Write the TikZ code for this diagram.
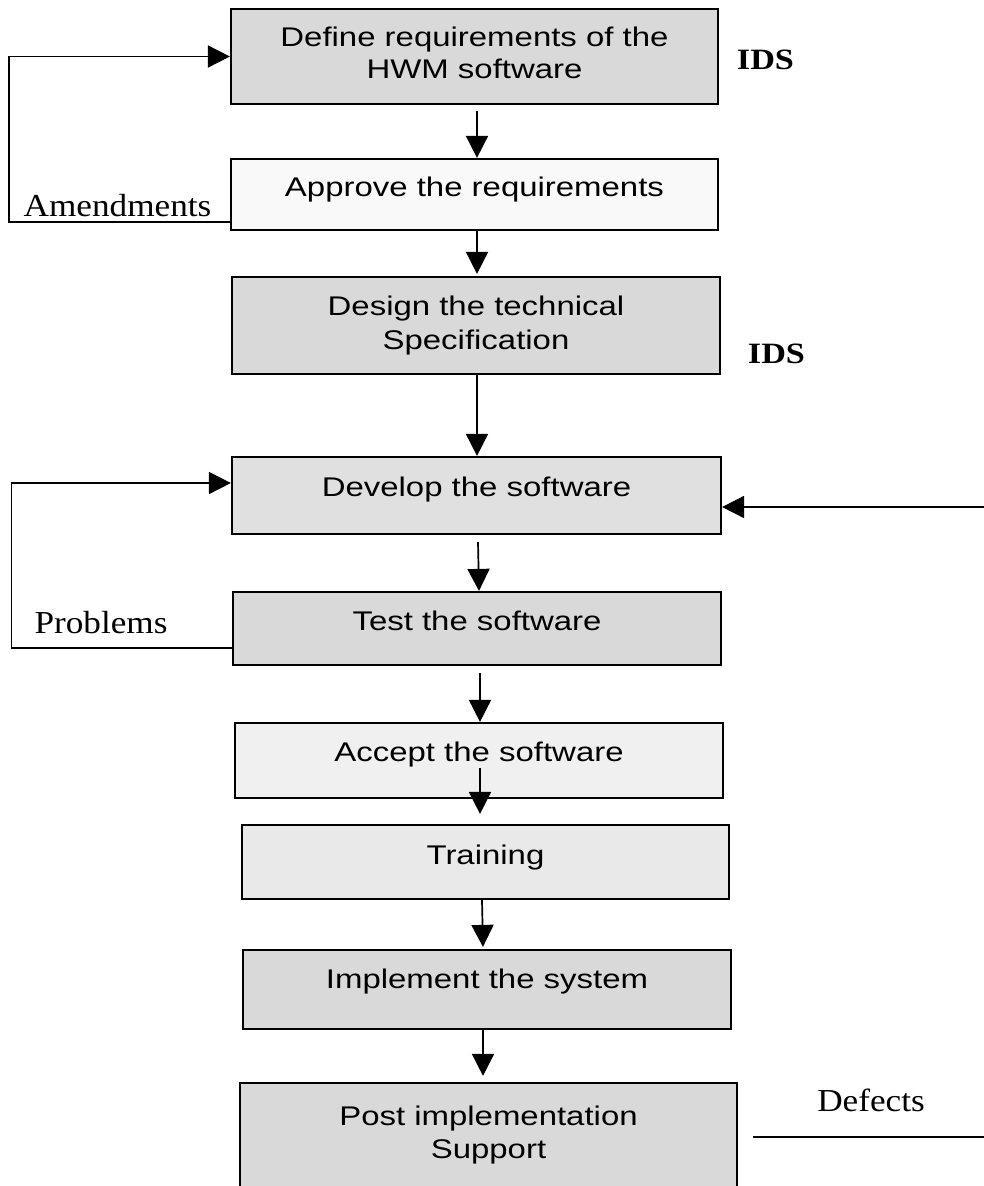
\documentclass[tikz,border=0pt]{standalone}
\usepackage{fontspec}
\setmainfont{Liberation Serif}
\newfontfamily\boxfont{Liberation Sans}[FakeStretch=1.22]
\newfontfamily\lblfont{Liberation Serif}[FakeStretch=1.1]
\newfontfamily\idsfont{Liberation Serif}[FakeStretch=1.16]
\usetikzlibrary{arrows.meta}
\definecolor{fillA}{gray}{0.85}
\definecolor{fillB}{gray}{0.975}
\definecolor{fillC}{gray}{0.88}
\definecolor{fillD}{gray}{0.94}
\definecolor{fillE}{gray}{0.915}
\begin{document}
\begin{tikzpicture}[x=1pt,y=-1pt,
  box/.style={draw=black, line width=2.2pt, inner sep=0pt},
  txt/.style={font=\boxfont\fontsize{27}{33}\selectfont, inner sep=0pt, anchor=base},
  lbl/.style={font=\lblfont\fontsize{32}{36}\selectfont, inner sep=0pt, anchor=base},
  ids/.style={font=\idsfont\bfseries\fontsize{29.5}{34}\selectfont, inner sep=0pt, anchor=base},
  arr/.style={line width=1.7pt, -{Triangle[length=22pt,width=22pt]}},
  plainline/.style={line width=1.8pt}]
\fill[white] (0,0) rectangle (984,1186);
\useasboundingbox (0,0) rectangle (984,1186);

% boxes
\node[box, fill=fillA, minimum width=487pt, minimum height=95pt] (b1) at (474.5,56.5) {};
\node[box, fill=fillB, minimum width=487pt, minimum height=71pt] (b2) at (474.5,194.5) {};
\node[box, fill=fillA, minimum width=488pt, minimum height=97pt] (b3) at (476,325.5) {};
\node[box, fill=fillC, minimum width=489pt, minimum height=77pt] (b4) at (476.5,495.5) {};
\node[box, fill=fillA, minimum width=488pt, minimum height=73pt] (b5) at (477,628.5) {};
\node[box, fill=fillD, minimum width=488pt, minimum height=75pt] (b6) at (479,760.5) {};
\node[box, fill=fillE, minimum width=487pt, minimum height=74pt] (b7) at (485.5,862) {};
\node[box, fill=fillA, minimum width=488pt, minimum height=79pt] (b8) at (487,989.5) {};
\node[box, fill=fillA, minimum width=497pt, minimum height=109pt] (b9) at (488.5,1137.5) {};

% box texts
\node[txt] (t1a) at (b1.center |- 0,46.7) {Define requirements of the};
\node[txt] (t1b) at (b1.center |- 0,78) {HWM software};
\node[txt] (t2) at (b2.center |- 0,196.7) {Approve the requirements};
\node[txt] (t3a) at (b3.center |- 0,315) {Design the technical};
\node[txt] (t3b) at (b3.center |- 0,349.3) {Specification};
\node[txt] (t4) at (b4.center |- 0,496.7) {Develop the software};
\node[txt] (t5) at (b5.center |- 0,630.7) {Test the software};
\node[txt] (t6) at (b6.center |- 0,761.7) {Accept the software};
\node[txt] (t7) at (b7.center |- 0,864) {Training};
\node[txt] (t8) at (b8.center |- 0,988.3) {Implement the system};
\node[txt] (t9a) at (b9.center |- 0,1125) {Post implementation};
\node[txt] (t9b) at (b9.center |- 0,1158.3) {Support};

% side labels
\node[ids] (ids1) at (765.5,69) {IDS};
\node[ids] (ids2) at (776.5,363) {IDS};
\node[lbl] (amend) at (117.5,216) {Amendments};
\node[lbl] (probl) at (101,633) {Problems};
\node[lbl] (defects) at (871,1111) {Defects};

% vertical flow arrows
\draw[arr] ([xshift=2.5pt,yshift=-6pt]b1.south) -- ([xshift=2.5pt]b2.north);
\draw[arr] ([xshift=2.5pt]b2.south) -- ([xshift=1pt,yshift=2pt]b3.north);
\draw[arr] ([xshift=1pt]b3.south) -- ([xshift=0.5pt]b4.north);
\draw[arr] ([xshift=1.5pt,yshift=-7pt]b4.south) -- ([xshift=2pt]b5.north);
\draw[arr] ([xshift=3pt,yshift=-7pt]b5.south) -- ([xshift=1pt]b6.north);
\draw[arr] ([xshift=1pt,yshift=31pt]b6.south) -- ([xshift=-5.5pt,yshift=10pt]b7.north);
\draw[arr] ([xshift=-3.5pt]b7.south) -- ([xshift=-4pt,yshift=2pt]b8.north);
\draw[arr] ([xshift=-4pt]b8.south) -- ([xshift=-5.5pt,yshift=6pt]b9.north);

% feedback loops
\draw[arr] ([yshift=-27.5pt]b2.west) -- ++(-221,0) |- (b1.west);
\draw[arr] ([yshift=-19.5pt]b5.west) -- ++(-220.5,0) |- ([yshift=12.5pt]b4.west);
\coordinate (rin) at (984,507);
\draw[arr] (rin) -- (b4.east |- rin);
\coordinate (d1) at (753,1137);
\coordinate (d2) at (984,1137);
\draw[plainline] (d1) -- (d2);
\end{tikzpicture}
\end{document}
